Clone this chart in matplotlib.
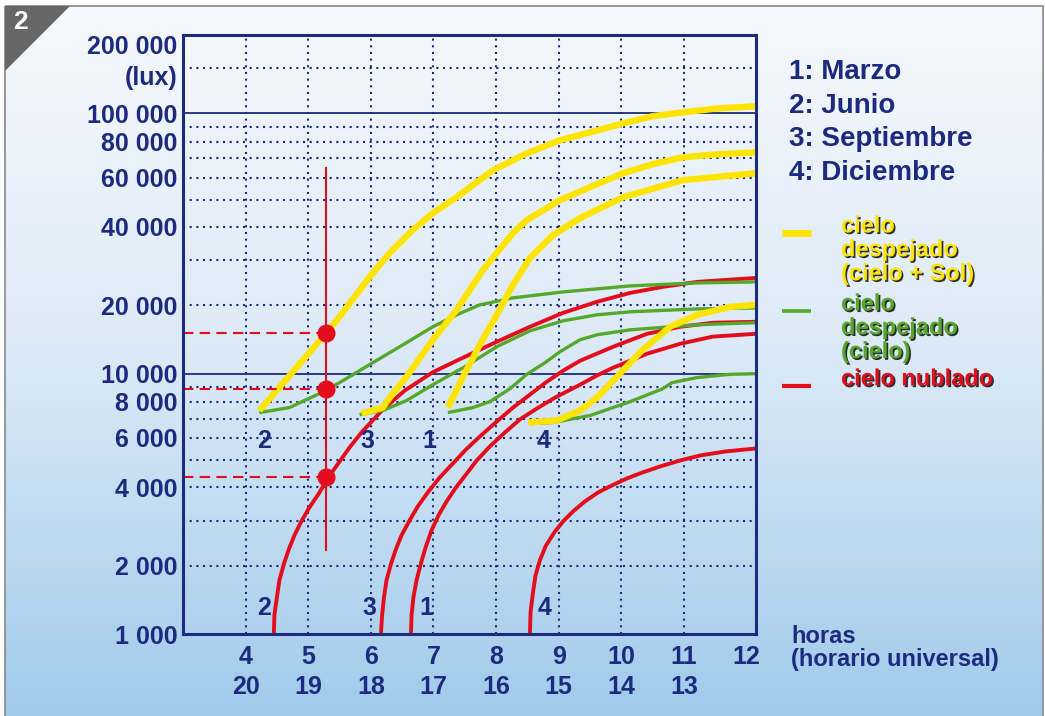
import numpy as np
import matplotlib
matplotlib.use("Agg")
import matplotlib.pyplot as plt
import matplotlib.patheffects as pe
from matplotlib.patches import Polygon, Rectangle

plt.rcParams['font.family'] = ['Liberation Sans', 'DejaVu Sans']
plt.rcParams['font.weight'] = 'bold'

NAVY = '#1c2b80'
YELLOW = '#ffe400'
GREEN = '#55a82c'
RED = '#e30d1e'

# --- datos (horas UT, lux) ---
# cielo despejado (cielo + Sol)
sol_junio_h = [4.22, 5.29, 5.50, 5.98, 6.30, 6.67, 6.99, 7.37, 7.95, 8.49, 9.02, 9.50, 10.03,
               10.50, 10.98, 11.53, 12.15]
sol_junio_lx = [7470, 15360, 17950, 25920, 31980, 38890, 44830, 51140, 63650, 72900, 80860, 86100,
                92480, 97800, 100900, 104500, 106400]
sol_sept_h = [5.85, 6.19, 6.35, 6.57, 6.99, 7.37, 7.79, 8.01, 8.27, 8.49, 9.02, 9.50, 10.03,
              10.50, 10.98, 11.53, 12.15]
sol_sept_lx = [7290, 7650, 8550, 9760, 14330, 19170, 27570, 31980, 37920, 42290, 49890, 55500,
               62130, 66800, 70640, 72300, 73500]
sol_marzo_h = [7.23, 7.50, 7.74, 8.01, 8.27, 8.54, 8.91, 9.34, 10.03, 10.98, 12.15]
sol_marzo_lx = [7650, 10050, 13620, 18290, 24130, 30620, 37280, 42990, 51140, 58720, 62130]
sol_dic_h = [8.51, 8.97, 9.34, 9.61, 9.93, 10.34, 10.78, 11.21, 11.74, 12.15]
sol_dic_lx = [6790, 6900, 7470, 8280, 9760, 12940, 16300, 18290, 19720, 20090]

# cielo despejado (cielo)
cielo_junio_h = [4.22, 4.70, 5.18, 5.50, 6.03, 6.54, 6.99, 7.37, 7.74, 8.27, 9.07, 10.14, 11.21, 12.15]
cielo_junio_lx = [7350, 7650, 8550, 9320, 11280, 13760, 16300, 18290, 20090, 21440, 22640, 23910, 24570, 24790]
cielo_sept_h = [5.82, 6.19, 6.57, 6.99, 7.50, 8.01, 8.54, 9.07, 9.61, 10.14, 11.21, 12.15]
cielo_sept_lx = [7230, 7470, 8090, 9170, 10800, 13350, 15660, 17270, 18290, 18820, 19340, 19520]
cielo_marzo_h = [7.23, 7.63, 7.90, 8.22, 8.49, 8.78, 9.02, 9.34, 9.61, 10.14, 11.21, 12.15]
cielo_marzo_lx = [7350, 7650, 8020, 8880, 9950, 11280, 12670, 14330, 15060, 15820, 16620, 16960]
cielo_dic_h = [8.54, 8.91, 9.50, 10.14, 10.66, 10.81, 11.21, 11.74, 12.15]
cielo_dic_lx = [6730, 6790, 7180, 8020, 8880, 9320, 9700, 9950, 10000]

# cielo nublado
nub_junio_h = [4.45, 4.46, 4.50, 4.54, 4.61, 4.69, 4.78, 4.89, 5.02, 5.17, 5.31, 5.49, 5.66,
               5.85, 6.19, 6.54, 6.99, 7.47, 8.01, 8.54, 9.07, 9.61, 10.14, 10.66, 11.21, 12.15]
nub_junio_lx = [1000, 1229, 1478, 1744, 2028, 2327, 2638, 2983, 3367, 3790, 4300, 4908, 5549,
                6264, 7530, 8751, 10170, 11900, 14040, 16300, 18640, 20670, 22440, 23700, 24790, 25690]
nub_sept_h = [6.16, 6.18, 6.21, 6.25, 6.32, 6.40, 6.49, 6.61, 6.75, 6.91, 7.10, 7.31, 7.52,
              7.74, 8.01, 8.27, 8.54, 8.81, 9.07, 9.34, 9.87, 10.41, 10.94, 11.46, 12.15]
nub_sept_lx = [1000, 1229, 1478, 1744, 2028, 2327, 2638, 2983, 3396, 3824, 4336, 4868, 5459,
               6065, 6842, 7650, 8480, 9390, 10340, 11520, 13350, 15210, 16300, 16950, 17110]
nub_marzo_h = [6.64, 6.65, 6.68, 6.73, 6.80, 6.88, 6.97, 7.08, 7.21, 7.36, 7.52, 7.69, 7.90,
               8.14, 8.38, 8.65, 8.94, 9.34, 9.61, 9.87, 10.41, 10.94, 11.46, 12.15]
nub_marzo_lx = [1000, 1229, 1478, 1744, 2047, 2391, 2757, 3143, 3544, 3989, 4444, 4989, 5594,
                6264, 6960, 7590, 8280, 9170, 9860, 10690, 12410, 13760, 14790, 15210]
nub_dic_h = [8.54, 8.55, 8.59, 8.63, 8.70, 8.79, 8.92, 9.07, 9.23, 9.42, 9.63, 9.85, 10.09,
             10.34, 10.62, 10.94, 11.26, 11.66, 12.15]
nub_dic_lx = [1000, 1268, 1554, 1829, 2105, 2391, 2685, 2983, 3253, 3544, 3824, 4056, 4300,
              4520, 4749, 4989, 5198, 5370, 5504]

# lectura de ejemplo a las 5:18 UT
lectura_h = 5.29
lectura_lx = [15360, 8850, 4350]
lectura_rango = [2310, 64700]

# ejes
horas_ut = [4, 5, 6, 7, 8, 9, 10, 11, 12]
horas_tarde = [20, 19, 18, 17, 16, 15, 14, 13, None]
lux_ticks = [1000, 2000, 4000, 6000, 8000, 10000, 20000, 40000, 60000, 80000, 100000, 200000]
lux_labels = ['1 000', '2 000', '4 000', '6 000', '8 000', '10 000', '20 000', '40 000',
              '60 000', '80 000', '100 000', '200 000']
lux_grid = [2000, 3000, 4000, 5000, 6000, 7000, 8000, 9000,
            20000, 30000, 40000, 50000, 60000, 70000, 80000, 90000, 150000]
lux_solid = [10000, 100000]
meses = ['1: Marzo', '2: Junio', '3: Septiembre', '4: Diciembre']


# escala del original: casi logaritmica, pero cada decada algo comprimida arriba
def fwd(v):
    v = np.maximum(np.asarray(v, dtype=float), 1e-6)
    d = np.floor(np.log10(v) + 1e-9)
    m = v / 10.0 ** d
    f = np.where(d >= 5, np.log10(m), np.log10((m + 0.5) / 1.5) / np.log10(7))
    return d + f


def inv(t):
    t = np.asarray(t, dtype=float)
    d = np.floor(t)
    f = t - d
    m = np.where(d >= 5, 10 ** f, 1.5 * 7 ** f - 0.5)
    return m * 10 ** d


W, H = 1045, 716
fig = plt.figure(figsize=(W / 100, H / 100), dpi=100)

# fondo con degradado y esquina
bg = fig.add_axes([0, 0, 1, 1])
bg.set_xlim(0, W)
bg.set_ylim(H, 0)
bg.axis('off')
grad = np.linspace(0, 1, 256)[:, None]
cmap = matplotlib.colors.LinearSegmentedColormap.from_list(
    'fondo', ['#f6f9fd', '#dbe9f6', '#a0cbeb'])
bg.imshow(grad, cmap=cmap, extent=[5, 1043, 716, 6], aspect='auto', zorder=0)
bg.add_patch(Rectangle((5, 6), 1038, 720, fill=False, ec='#8a8a8a', lw=1.2, zorder=1))
bg.add_patch(Polygon([[5, 6], [70, 6], [5, 71]], closed=True, fc='#666666', ec='none', zorder=2))
bg.text(20, 22, '2', color='white', fontsize=19, ha='center', va='center', zorder=3)

ax = fig.add_axes([183 / W, (H - 634) / H, (756 - 183) / W, (634 - 35) / H])
ax.patch.set_visible(False)
ax.set_yscale('function', functions=(fwd, inv))
ax.set_xlim(3, 12.15)
ax.set_ylim(1000, 200000)

dots = dict(color=NAVY, lw=1.5, linestyle=(0, (1, 2.2)), dash_capstyle='butt', zorder=1)
for v in lux_grid:
    ax.axhline(v, **dots)
for h in horas_ut[:-1]:
    ax.axvline(h, **dots)
for v in lux_solid:
    ax.axhline(v, color=NAVY, lw=1.3, zorder=1.5)

# curvas
for hh, lx in [(nub_junio_h, nub_junio_lx), (nub_sept_h, nub_sept_lx),
               (nub_marzo_h, nub_marzo_lx), (nub_dic_h, nub_dic_lx)]:
    ax.plot(hh, lx, color=RED, lw=2.8, solid_capstyle='butt', solid_joinstyle='round', zorder=3)
for hh, lx in [(cielo_junio_h, cielo_junio_lx), (cielo_sept_h, cielo_sept_lx),
               (cielo_marzo_h, cielo_marzo_lx), (cielo_dic_h, cielo_dic_lx)]:
    ax.plot(hh, lx, color=GREEN, lw=2.4, solid_capstyle='butt', solid_joinstyle='round', zorder=3.5)
for hh, lx in [(sol_junio_h, sol_junio_lx), (sol_sept_h, sol_sept_lx),
               (sol_marzo_h, sol_marzo_lx), (sol_dic_h, sol_dic_lx)]:
    ax.plot(hh, lx, color=YELLOW, lw=4.6, solid_capstyle='butt', solid_joinstyle='round', zorder=4)

# lectura de ejemplo
ax.plot([lectura_h, lectura_h], lectura_rango, color=RED, lw=1.5, zorder=5)
for v in lectura_lx:
    ax.plot([3, lectura_h], [v, v], color=RED, lw=1.5, linestyle=(0, (5, 3)), zorder=5)
ax.plot([lectura_h] * 3, lectura_lx, 'o', color=RED, ms=12, zorder=6)

# numeros de las curvas
for h, t in [(4.29, '2'), (5.95, '3'), (6.94, '1'), (8.75, '4')]:
    ax.text(h, 5870, t, color=NAVY, fontsize=18, ha='center', va='center', zorder=7)
for h, t in [(4.29, '2'), (5.97, '3'), (6.89, '1'), (8.78, '4')]:
    ax.text(h, 1320, t, color=NAVY, fontsize=18, ha='center', va='center', zorder=7)

for s in ax.spines.values():
    s.set_color(NAVY)
    s.set_linewidth(2.2)
    s.set_zorder(8)

ax.set_yticks(lux_ticks)
ax.set_yticklabels(lux_labels)
ax.set_xticks(horas_ut)
ax.set_xticklabels([f'{a}\n{b}' if b else f'{a}' for a, b in zip(horas_ut, horas_tarde)],
                   linespacing=1.3)
ax.tick_params(length=0, colors=NAVY, labelsize=18)
ax.tick_params(axis='y', pad=4)
ax.tick_params(axis='x', pad=8)
ax.minorticks_off()
ax.get_yticklabels()[-1].set_va('top')
ax.text(-0.009, 136500, '(lux)', transform=ax.get_yaxis_transform(), color=NAVY,
        fontsize=18, ha='right', va='center')

# leyenda de meses
for i, m in enumerate(meses):
    fig.text(789 / W, 1 - (72 + 33.7 * i) / H, m, color=NAVY, fontsize=20, ha='left', va='center')

# leyenda de colores
shadow = [pe.withSimplePatchShadow(offset=(1.2, -1.2), shadow_rgbFace='#1a1a1a', alpha=0.9)]
for y0, col, lw, txt in [(233, YELLOW, 5, 'cielo\ndespejado\n(cielo + Sol)'),
                         (311, GREEN, 2.6, 'cielo\ndespejado\n(cielo)'),
                         (386, RED, 3, 'cielo nublado')]:
    bg.plot([782, 811], [y0, y0], color=col, lw=lw, solid_capstyle='butt', zorder=3)
    n = txt.count('\n')
    bg.text(841, y0 - 7 + 23.8 * n / 2, txt, color=col, fontsize=17, ha='left', va='center',
            linespacing=1.05, path_effects=shadow, zorder=3)

fig.text(791 / W, 1 - 648 / H, 'horas\n(horario universal)', color=NAVY, fontsize=17,
         ha='left', va='center', linespacing=1.05)

plt.savefig('out.png', dpi=100)
